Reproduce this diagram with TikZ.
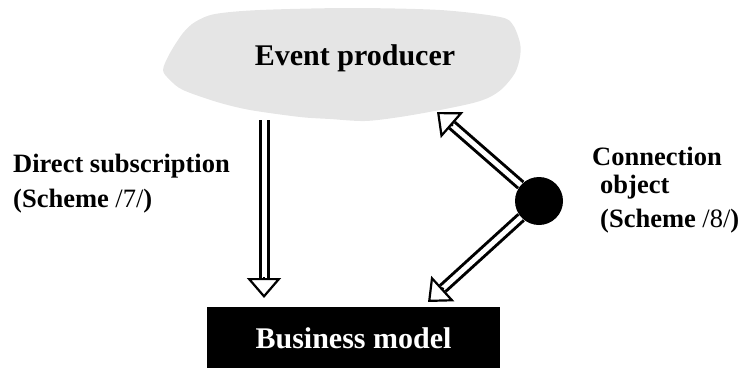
\documentclass[tikz,border=0pt]{standalone}
\usepackage{fontspec}
\setmainfont{Liberation Serif}
\usetikzlibrary{arrows.meta,calc}

\begin{document}
\begin{tikzpicture}[x=1pt, y=-1pt,
  shaft/.style={draw, line width=3pt, double, double distance=5pt},
  head/.style={-{Triangle[open, length=20pt, width=34pt]}, line width=2.2pt},
  biglabel/.style={font=\fontsize{30}{36}\selectfont\bfseries, inner sep=0pt},
  sidelabel/.style={font=\fontsize{26.5}{30}\selectfont\bfseries, inner sep=0pt, anchor=base west}]
  \useasboundingbox (0,0) rectangle (741,367);
  % event producer cloud
  \fill[black!10] plot[smooth cycle, tension=0.5] coordinates {
    (163,70) (170,53) (183,33) (195,22) (215,14) (260,10) (350,8) (440,10)
    (500,17) (513,25) (520,43) (520,57) (515,73) (503,88) (490,97) (473,103)
    (440,110) (400,117) (365,121) (330,119) (300,117) (250,110) (217,102)
    (183,90) (170,80)};
  \node[biglabel, anchor=base] (producer) at (355,65) {Event producer};
  \node[biglabel, fill=black, text=white, minimum width=293pt, minimum height=62pt] (model) at (353.5,338) {Business model};
  \node[circle, fill=black, minimum size=48pt, inner sep=0pt] (conn) at (539,201) {};
  \coordinate (subtop) at (264,120);
  \coordinate (subend) at (264,298);
  \coordinate (upend) at (437,112);
  \coordinate (downend) at (428,302);
  % arrows
  \draw[shaft] (subtop) -- ($(subend)!20pt!(subtop)$);
  \draw[head] ($(subend)!21pt!(subtop)$) -- (subend);
  \draw[shaft] (conn) -- ($(upend)!20pt!(conn)$);
  \draw[head] ($(upend)!21pt!(conn)$) -- (upend);
  \draw[shaft] (conn) -- ($(downend)!20pt!(conn)$);
  \draw[head] ($(downend)!21pt!(conn)$) -- (downend);
  % labels
  \node[sidelabel] (direct) at (13,172) {Direct subscription};
  \node[sidelabel] (scheme7) at (13,207) {(Scheme \textmd{/7/})};
  \node[sidelabel] (connection) at (592,165) {Connection};
  \node[sidelabel] (object) at (600,193) {object};
  \node[sidelabel] (scheme8) at (600,227) {(Scheme \textmd{/8/})};
\end{tikzpicture}
\end{document}
